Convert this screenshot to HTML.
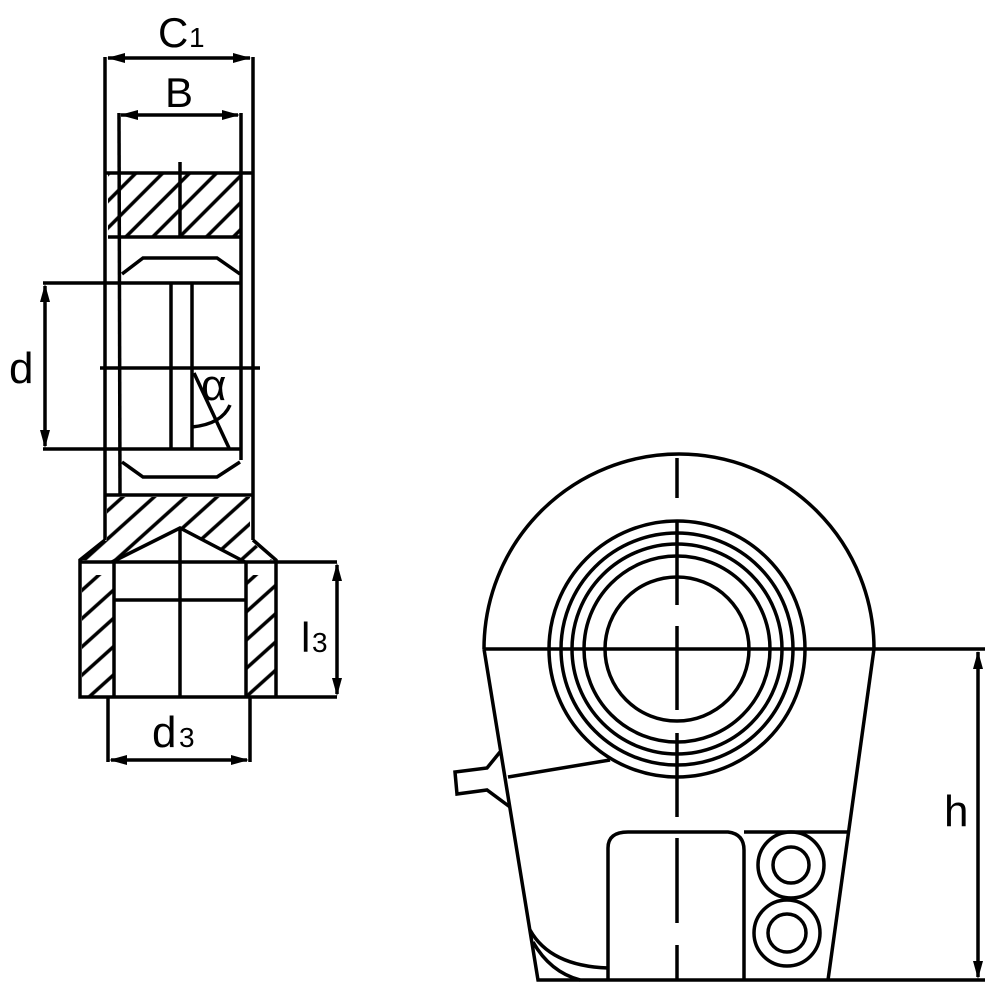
<!DOCTYPE html>
<html><head><meta charset="utf-8"><style>html,body{margin:0;padding:0;background:#fff}svg{display:block}</style></head>
<body>
<svg width="1000" height="1000" viewBox="0 0 1000 1000" xmlns="http://www.w3.org/2000/svg">
<defs>
<pattern id="h" patternUnits="userSpaceOnUse" width="19" height="19" patternTransform="rotate(45)">
<line x1="9.5" y1="-1" x2="9.5" y2="20" stroke="#000" stroke-width="3.5"/>
</pattern>
<pattern id="h2" patternUnits="userSpaceOnUse" width="21" height="21" patternTransform="rotate(48)">
<line x1="10.5" y1="-1" x2="10.5" y2="22" stroke="#000" stroke-width="3.5"/>
</pattern>
</defs>
<style>
.l{stroke:#000;stroke-width:3.5;fill:none}
text{font-family:"Liberation Sans",sans-serif;fill:#000}
</style>
<!-- hatched regions -->
<rect x="108" y="173" width="132" height="64" fill="url(#h)"/>
<polygon points="107,497 250,497 250,540 272,560 246,562 180,528 114,562 82,560 107,540" fill="url(#h2)"/>
<rect x="82" y="575" width="32" height="122" fill="url(#h2)"/>
<rect x="246" y="575" width="30" height="122" fill="url(#h2)"/>
<g class="l">
<line x1="108" y1="58" x2="250" y2="58"/>
<line x1="121" y1="115" x2="238" y2="115"/>
<line x1="105" y1="57" x2="105" y2="540"/>
<line x1="253" y1="57" x2="253" y2="540"/>
<line x1="119" y1="113" x2="120" y2="495"/>
<line x1="241" y1="113" x2="241" y2="460"/>
<line x1="105" y1="173" x2="253" y2="173"/>
<line x1="108" y1="237" x2="240" y2="237"/>
<line x1="180" y1="162" x2="180" y2="237"/>
<polyline points="122,274 143,258 217,258 240,274"/>
<polyline points="122,462 143,477 217,477 240,462"/>
<line x1="43" y1="283" x2="240" y2="283"/>
<line x1="43" y1="449" x2="240" y2="449"/>
<line x1="45" y1="286" x2="45" y2="446"/>
<line x1="100" y1="368" x2="260" y2="368"/>
<line x1="171" y1="283" x2="171" y2="449"/>
<line x1="192" y1="283" x2="192" y2="449"/>
<line x1="194" y1="373" x2="229" y2="448"/>
<path d="M192,427 Q222,424 230,405"/>
<line x1="105" y1="495" x2="253" y2="495"/>
<polyline points="105,540 80,560 80,697 337,697"/>
<polyline points="253,540 276,560 276,697"/>
<line x1="80" y1="562" x2="337" y2="562"/>
<line x1="114" y1="562" x2="114" y2="697"/>
<line x1="246" y1="562" x2="246" y2="697"/>
<polyline points="112,562 180,528 245,562"/>
<line x1="114" y1="600" x2="246" y2="600"/>
<line x1="180" y1="528" x2="180" y2="697"/>
<line x1="337" y1="565" x2="337" y2="694"/>
<line x1="108" y1="697" x2="108" y2="762"/>
<line x1="250" y1="697" x2="250" y2="762"/>
<line x1="111" y1="760" x2="247" y2="760"/>

<path d="M484,649 A195,195 0 0 1 874,649"/>
<line x1="484" y1="649" x2="985" y2="649"/>
<polyline points="484,649 538,980 985,980"/>
<line x1="874" y1="649" x2="828" y2="980"/>
<line x1="978" y1="652" x2="978" y2="977"/>
<circle cx="677" cy="649" r="72"/>
<circle cx="677" cy="649" r="93"/>
<circle cx="677" cy="649" r="105"/>
<circle cx="677" cy="649" r="116"/>
<circle cx="677" cy="649" r="128"/>
<path d="M677,458 V498 M677,520 V605 M677,626 V710 M677,733 V817 M677,838 V923 M677,945 V980"/>
<line x1="508" y1="777" x2="610" y2="760"/>
<polyline points="500,752 487,768 455,772 457,794 487,790 510,807"/>
<path d="M608,980 V848 Q608,832 628,832 L728,832 Q744,834 744,850 V980"/>
<line x1="744" y1="832" x2="850" y2="832"/>
<circle cx="791" cy="865" r="33"/>
<circle cx="791" cy="865" r="18"/>
<circle cx="787" cy="933" r="33"/>
<circle cx="787" cy="933" r="19"/>
<path d="M530,930 Q550,966 608,968"/>
<path d="M533,942 Q550,972 580,980"/>
</g>
<g fill="#000">
<polygon points="107,58 125,53 125,63"/><polygon points="251,58 233,53 233,63"/>
<polygon points="120,115 138,110 138,120"/><polygon points="240,115 222,110 222,120"/>
<polygon points="45,284 40,302 50,302"/><polygon points="45,448 40,430 50,430"/>
<polygon points="337,563 332,581 342,581"/><polygon points="337,696 332,678 342,678"/>
<polygon points="109,760 127,755 127,765"/><polygon points="249,760 231,755 231,765"/>
<polygon points="978,651 973,669 983,669"/><polygon points="978,979 973,961 983,961"/>
</g>
<text x="158" y="47" font-size="42">C</text><text x="189" y="47" font-size="28">1</text>
<text x="165" y="107" font-size="42">B</text>
<text x="9" y="383" font-size="44">d</text>
<text x="201" y="400" font-size="44">α</text>
<text x="301" y="652" font-size="42">l</text><text x="312" y="652" font-size="28">3</text>
<text x="152" y="747" font-size="44">d</text><text x="179" y="747" font-size="28">3</text>
<text x="944" y="826" font-size="44">h</text>
</svg>
</body></html>
